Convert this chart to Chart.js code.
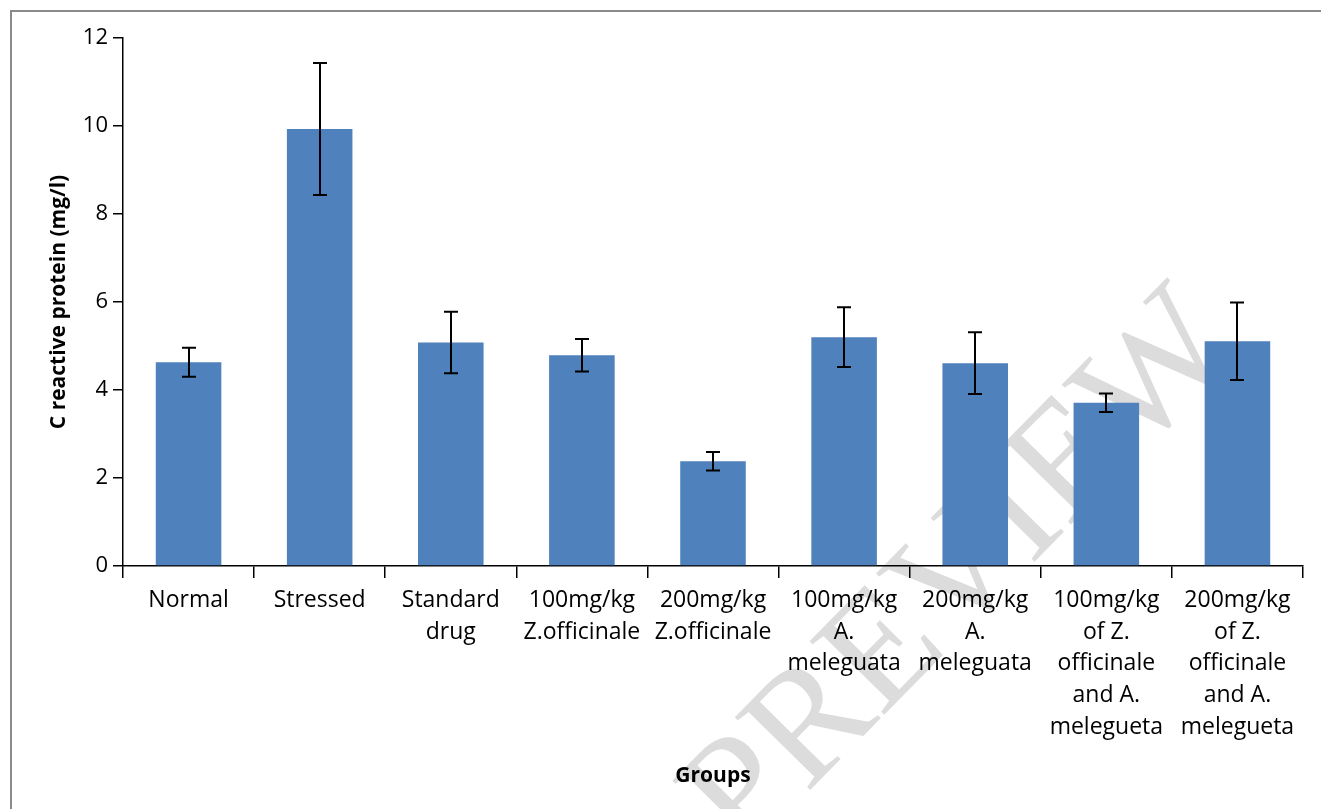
<!DOCTYPE html>
<html>
<head>
<meta charset="utf-8">
<script src="https://cdn.jsdelivr.net/npm/chart.js@4"></script>
<style>
  html, body { margin: 0; padding: 0; background: #fff; }
  #wrap { width: 1321px; height: 809px; position: relative; }
</style>
</head>
<body>
<div id="wrap"><canvas id="crpChart" width="1321" height="809"></canvas></div>
<script>
// groups (multi-line tick labels)
const groups = [
    ['Normal'],
    ['Stressed'],
    ['Standard', 'drug'],
    ['100mg/kg', 'Z.officinale'],
    ['200mg/kg', 'Z.officinale'],
    ['100mg/kg', 'A.', 'meleguata'],
    ['200mg/kg', 'A.', 'meleguata'],
    ['100mg/kg', 'of Z.', 'officinale', 'and A.', 'melegueta'],
    ['200mg/kg', 'of Z.', 'officinale', 'and A.', 'melegueta']
];
const crpMeans = [4.63, 9.93, 5.08, 4.79, 2.38, 5.20, 4.61, 3.71, 5.11];
const crpErrors = [0.33, 1.50, 0.70, 0.37, 0.21, 0.68, 0.70, 0.21, 0.88];
const yTicks = [0, 2, 4, 6, 8, 10, 12];

const FONT = "'Open Sans', sans-serif";

// frame + watermark under everything
const backdrop = {
    id: 'backdrop',
    beforeDraw(chart) {
        const ctx = chart.ctx;
        ctx.save();
        ctx.fillStyle = '#fff';
        ctx.fillRect(0, 0, chart.width, chart.height);
        ctx.strokeStyle = '#8a8a8a';
        ctx.lineWidth = 2;
        ctx.beginPath();
        ctx.moveTo(11, chart.height + 5);
        ctx.lineTo(11, 11);
        ctx.lineTo(chart.width + 5, 11);
        ctx.stroke();
        // watermark
        ctx.translate(993, 604);
        ctx.rotate(-45.5 * Math.PI / 180);
        ctx.fillStyle = '#dcdcdc';
        ctx.font = "160px 'Liberation Serif', serif";
        ctx.textAlign = 'center';
        ctx.textBaseline = 'alphabetic';
        ctx.fillText('PREVIEW', 0, 0);
        ctx.restore();
    }
};

// error bars
const errorBars = {
    id: 'errorBars',
    afterDatasetsDraw(chart) {
        const ctx = chart.ctx;
        const meta = chart.getDatasetMeta(0);
        const y = chart.scales.y;
        ctx.save();
        ctx.strokeStyle = '#000';
        ctx.lineWidth = 2;
        meta.data.forEach((bar, i) => {
            const top = y.getPixelForValue(crpMeans[i] + crpErrors[i]);
            const bot = y.getPixelForValue(crpMeans[i] - crpErrors[i]);
            const x = Math.round(bar.x);
            ctx.beginPath();
            ctx.moveTo(x, top);
            ctx.lineTo(x, bot);
            ctx.moveTo(x - 7, top);
            ctx.lineTo(x + 7, top);
            ctx.moveTo(x - 7, bot);
            ctx.lineTo(x + 7, bot);
            ctx.stroke();
        });
        ctx.restore();
    }
};

const ctx = document.getElementById('crpChart').getContext('2d');
const crpChart = new Chart(ctx, {
    type: 'bar',
    data: {
        labels: groups,
        datasets: [{
            label: 'C reactive protein',
            data: crpMeans,
            backgroundColor: '#4f81bd',
            barPercentage: 0.5,
            categoryPercentage: 1.0
        }]
    },
    options: {
        responsive: false,
        animation: false,
        layout: { padding: { left: 12, top: 38, right: 18, bottom: 0 } },
        plugins: {
            legend: { display: false },
            tooltip: { enabled: false }
        },
        scales: {
            x: {
                grid: {
                    drawOnChartArea: false,
                    drawTicks: true,
                    tickLength: 12,
                    color: '#000',
                    lineWidth: 1.5
                },
                border: { display: true, color: '#000', width: 1.5 },
                ticks: {
                    color: '#000',
                    font: { family: FONT, size: 23, lineHeight: 1.39 },
                    padding: 6,
                    maxRotation: 0,
                    autoSkip: false
                },
                title: {
                    display: true,
                    text: 'Groups',
                    color: '#000',
                    font: { family: FONT, size: 21, weight: 'bold', lineHeight: 1.2 },
                    padding: { top: 0, bottom: 20 }
                },
                afterFit(scale) { scale.height = 809 - 566; }
            },
            y: {
                min: 0,
                max: 12,
                afterBuildTicks(scale) { scale.ticks = yTicks.map(v => ({ value: v })); },
                grid: {
                    drawOnChartArea: false,
                    drawTicks: true,
                    tickLength: 10,
                    color: '#000',
                    lineWidth: 1.5
                },
                border: { display: true, color: '#000', width: 1.5 },
                ticks: {
                    color: '#000',
                    font: { family: FONT, size: 22 },
                    padding: 5
                },
                title: {
                    display: true,
                    text: 'C reactive protein (mg/l)',
                    color: '#000',
                    font: { family: FONT, size: 21, weight: 'bold', lineHeight: 1.2 },
                    padding: { top: 34, bottom: 0 }
                },
                afterFit(scale) { scale.width = 123 - 12; }
            }
        }
    },
    plugins: [backdrop, errorBars]
});
</script>
</body>
</html>
